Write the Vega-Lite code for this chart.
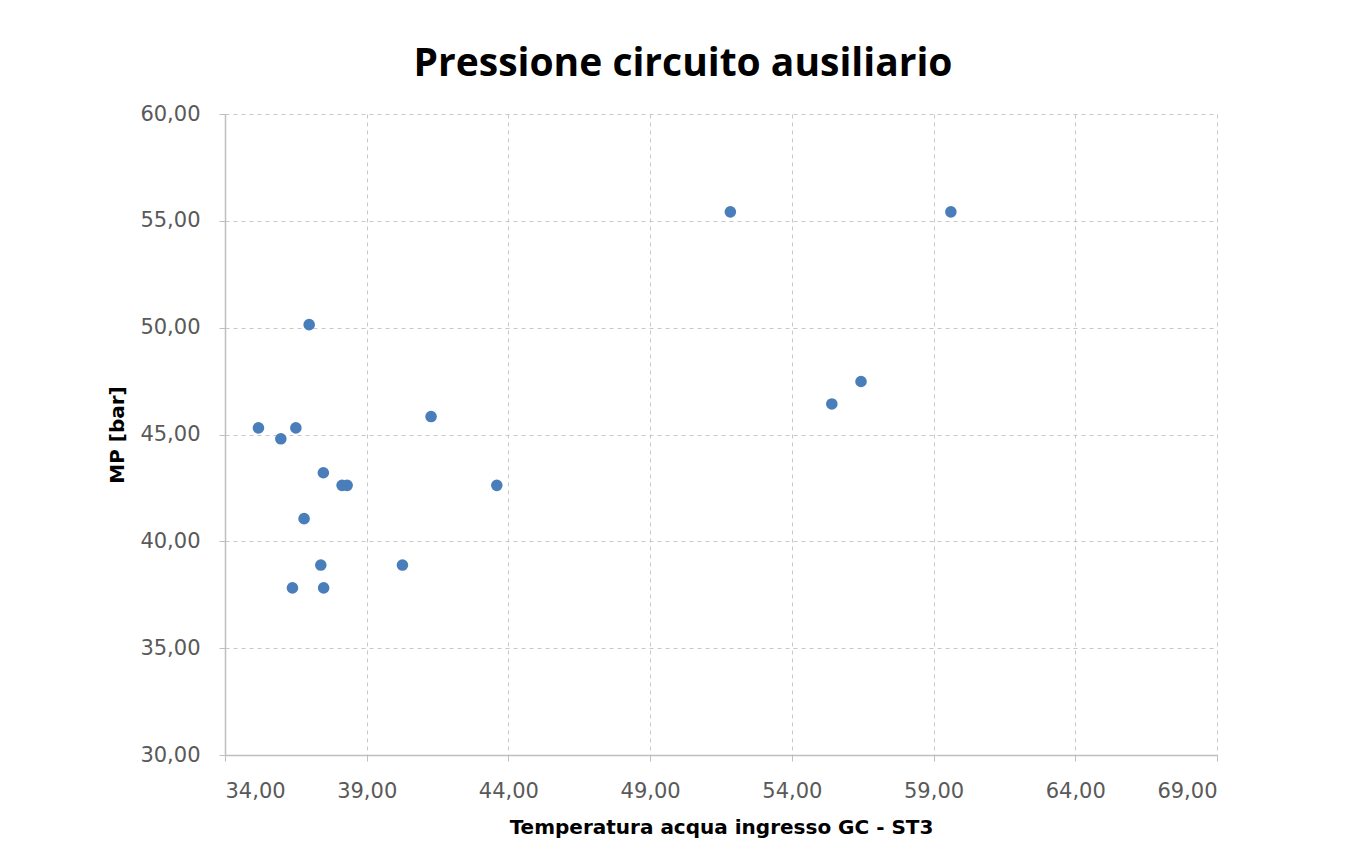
{
  "$schema": "https://vega.github.io/schema/vega-lite/v6.json",
  "width": 992,
  "height": 641,
  "autosize": {"type": "none"},
  "padding": {"left": 225, "top": 114, "right": 148, "bottom": 88},
  "background": "white",
  "title": {
    "text": "Pressione circuito ausiliario",
    "font": "Open Sans",
    "fontSize": 39,
    "fontWeight": "bold",
    "color": "#000000",
    "anchor": "middle",
    "dx": -38,
    "offset": 19
  },
  "data": {
    "values": [
      {"temp": 35.18, "mp": 45.31},
      {"temp": 35.97, "mp": 44.80},
      {"temp": 36.50, "mp": 45.31},
      {"temp": 36.97, "mp": 50.14},
      {"temp": 36.79, "mp": 41.06},
      {"temp": 37.47, "mp": 43.21},
      {"temp": 37.38, "mp": 38.89},
      {"temp": 36.38, "mp": 37.82},
      {"temp": 37.48, "mp": 37.82},
      {"temp": 38.13, "mp": 42.62},
      {"temp": 38.31, "mp": 42.62},
      {"temp": 40.26, "mp": 38.89},
      {"temp": 41.27, "mp": 45.84},
      {"temp": 43.59, "mp": 42.62},
      {"temp": 51.83, "mp": 55.42},
      {"temp": 59.61, "mp": 55.42},
      {"temp": 55.41, "mp": 46.43},
      {"temp": 56.44, "mp": 47.48}
    ]
  },
  "mark": {"type": "circle", "size": 135, "color": "#4a7ebb", "opacity": 1},
  "encoding": {
    "x": {
      "field": "temp",
      "type": "quantitative",
      "scale": {"domain": [34, 69], "nice": false, "zero": false},
      "axis": {
        "values": [34, 39, 44, 49, 54, 59, 64, 69],
        "labelExpr": "replace(format(datum.value, '.2f'), '.', ',')",
        "title": "Temperatura acqua ingresso GC - ST3",
        "titleFont": "DejaVu Sans",
        "titleFontSize": 20,
        "titleFontWeight": "bold",
        "titleColor": "#000000",
        "titlePadding": 16,
        "labelFont": "DejaVu Sans",
        "labelFontSize": 21,
        "labelColor": "#595959",
        "labelPadding": 19,
        "domainColor": "#bfbfbf",
        "domainWidth": 1.5,
        "tickColor": "#bfbfbf",
        "tickSize": 6,
        "grid": true,
        "gridColor": "#c8c8c8",
        "gridDash": [4, 4],
        "gridWidth": 1
      }
    },
    "y": {
      "field": "mp",
      "type": "quantitative",
      "scale": {"domain": [30, 60], "nice": false, "zero": false},
      "axis": {
        "values": [30, 35, 40, 45, 50, 55, 60],
        "labelExpr": "replace(format(datum.value, '.2f'), '.', ',')",
        "title": "MP [bar]",
        "titleFont": "DejaVu Sans",
        "titleFontSize": 20,
        "titleFontWeight": "bold",
        "titleColor": "#000000",
        "titlePadding": 12,
        "labelFont": "DejaVu Sans",
        "labelFontSize": 21,
        "labelColor": "#595959",
        "labelPadding": 19,
        "domainColor": "#bfbfbf",
        "domainWidth": 1.5,
        "tickColor": "#bfbfbf",
        "tickSize": 6,
        "grid": true,
        "gridColor": "#c8c8c8",
        "gridDash": [4, 4],
        "gridWidth": 1
      }
    }
  },
  "config": {
    "view": {"stroke": null}
  }
}
